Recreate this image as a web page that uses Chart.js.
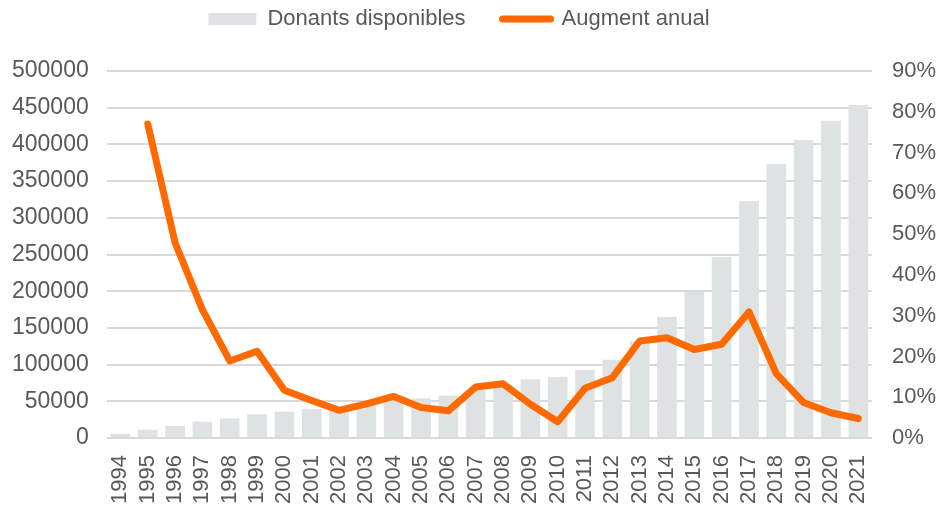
<!DOCTYPE html>
<html>
<head>
<meta charset="utf-8">
<script src="https://cdn.jsdelivr.net/npm/chart.js@4"></script>
<style>
  html, body { margin: 0; padding: 0; background: #fff; }
  #wrap { width: 936px; height: 506px; }
</style>
</head>
<body>
<div id="wrap"><canvas id="chart"></canvas></div>
<script>
const anys = ['1994','1995','1996','1997','1998','1999','2000','2001','2002','2003','2004','2005','2006','2007',
              '2008','2009','2010','2011','2012','2013','2014','2015','2016','2017','2018','2019','2020','2021'];

// donants disponibles (eix esquerre)
const donants = [6000, 11300, 16300, 22200, 26800, 32300, 35800, 39500, 43000, 47000, 50500, 54000, 57700, 65000,
                 72000, 80200, 83100, 92600, 106700, 132000, 164800, 199300, 246600, 322900, 373300, 406000, 432300, 453700];

// augment anual en % (eix dret)
const augment = [null, 77.0, 47.9, 31.5, 18.9, 21.3, 11.7, 9.2, 6.8, 8.4, 10.2, 7.5, 6.7, 12.5,
                 13.3, 8.3, 4.0, 12.2, 14.8, 23.8, 24.6, 21.7, 23.0, 30.9, 15.8, 8.7, 6.2, 4.8];

const colorBarra = '#dfe2e3';
const colorLinia = '#ff6a00';
const colorText = '#595959';
const fontFamily = 'Liberation Sans, Arial, sans-serif';

// petit dibuix per a la llegenda de la línia (línia gruixuda amb extrems rodons)
const iconaLinia = document.createElement('canvas');
iconaLinia.width = 55;
iconaLinia.height = 8;
(function() {
    const c = iconaLinia.getContext('2d');
    c.strokeStyle = colorLinia;
    c.lineWidth = 7;
    c.lineCap = 'round';
    c.beginPath();
    c.moveTo(3.5, 4);
    c.lineTo(51.5, 4);
    c.stroke();
})();

// fa la llegenda més alta perquè l'àrea del gràfic comenci més avall,
// i la desplaça una mica a l'esquerra com a l'original
const llegendaAlta = {
    id: 'llegendaAlta',
    beforeInit(chart) {
        const fitOriginal = chart.legend.fit;
        chart.legend.fit = function() {
            fitOriginal.bind(chart.legend)();
            this.height += 31;
        };
    },
    afterLayout(chart) {
        chart.legend.left -= 16;
        chart.legend.right -= 16;
    }
};

new Chart(document.getElementById('chart'), {
    type: 'bar',
    data: {
        labels: anys,
        datasets: [
            { label: 'Donants disponibles', data: donants, backgroundColor: colorBarra, yAxisID: 'y', order: 1,
              categoryPercentage: 1, barPercentage: 0.72 },
            { type: 'line', label: 'Augment anual', data: augment, borderColor: colorLinia, backgroundColor: colorLinia,
              borderWidth: 7, borderJoinStyle: 'round', borderCapStyle: 'round', pointRadius: 0, tension: 0,
              yAxisID: 'y1', order: 0 }
        ]
    },
    plugins: [llegendaAlta],
    options: {
        responsive: true,
        maintainAspectRatio: false,
        animation: false,
        layout: { padding: { left: -6, right: -20, top: -29, bottom: -15 } },
        plugins: {
            tooltip: { enabled: false },
            legend: {
                position: 'top',
                labels: {
                    font: { family: fontFamily, size: 22 },
                    color: colorText,
                    usePointStyle: true,
                    pointStyleWidth: 48,
                    boxHeight: 12,
                    padding: 37,
                    generateLabels: function(chart) {
                        const items = Chart.defaults.plugins.legend.labels.generateLabels(chart);
                        items.sort((a, b) => a.datasetIndex - b.datasetIndex);
                        items.forEach(item => {
                            if (item.datasetIndex === 0) {
                                item.pointStyle = 'rect';
                                item.fillStyle = colorBarra;
                                item.strokeStyle = colorBarra;
                                item.lineWidth = 0;
                            } else {
                                item.pointStyle = iconaLinia;
                                item.lineWidth = 0;
                            }
                        });
                        return items;
                    }
                }
            }
        },
        scales: {
            x: {
                grid: { display: false, drawTicks: false },
                border: { display: false },
                ticks: { font: { family: fontFamily, size: 22 }, color: colorText,
                         minRotation: 90, maxRotation: 90, autoSkip: false, padding: 17 }
            },
            y: {
                position: 'left',
                min: 0, max: 500000,
                grid: { color: '#d9d9d9', lineWidth: 2, drawTicks: false },
                border: { display: false },
                ticks: { stepSize: 50000, font: { family: fontFamily, size: 23 }, color: colorText, padding: 18,
                         callback: v => v.toString() }
            },
            y1: {
                position: 'right',
                min: 0, max: 90,
                grid: { display: false, drawTicks: false },
                border: { display: false },
                ticks: { stepSize: 10, font: { family: fontFamily, size: 22 }, color: colorText, padding: 20,
                         callback: v => v + '%' }
            }
        }
    }
});
</script>
</body>
</html>
